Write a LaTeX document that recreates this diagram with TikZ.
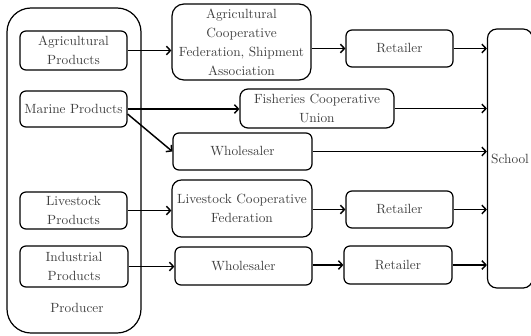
\documentclass[tikz,border=0pt]{standalone}
\usetikzlibrary{arrows.meta}
\tikzset{
  box/.style={draw, rounded corners=4.5pt, line width=0.9pt, align=center, inner sep=0pt},
  flow/.style={line width=1.1pt, -{Straight Barb[length=3pt,width=6.5pt]}},
}
\begin{document}
\begin{tikzpicture}[x=0.75pt, y=-0.75pt, font=\fontsize{10}{14.25}\selectfont, text=black!75]
  \useasboundingbox (0,0) rectangle (531,335);
  % producer column
  \node[box, rounded corners=18pt, minimum width=100.5pt, minimum height=243.75pt] (producer) at (74,170.5) {};
  \node (prodlabel) at (77,308) {Producer};
  \node[box, minimum width=80.25pt, minimum height=29.25pt] (agri) at (73.5,50.5) {Agricultural\\Products};
  \node[box, minimum width=80.25pt, minimum height=27pt] (marine) at (73.5,109) {Marine Products};
  \node[box, minimum width=80.25pt, minimum height=27.75pt] (livestock) at (73.5,210.5) {Livestock\\Products};
  \node[box, minimum width=81pt, minimum height=30.75pt] (industrial) at (74,266.5) {Industrial\\Products};
  % middle stage
  \node[box, rounded corners=9pt, minimum width=104.25pt, minimum height=57pt] (acf) at (241.5,42) {Agricultural\\Cooperative\\Federation, Shipment\\Association};
  \node[box, rounded corners=6pt, minimum width=115.5pt, minimum height=29.25pt] (fish) at (317,108.5) {Fisheries Cooperative\\Union};
  \node[box, minimum width=104.25pt, minimum height=27.75pt] (whole1) at (242.5,151.5) {Wholesaler};
  \node[box, rounded corners=7pt, minimum width=105pt, minimum height=42.75pt] (lcf) at (242,208.5) {Livestock Cooperative\\Federation};
  \node[box, minimum width=102.75pt, minimum height=28.5pt] (whole2) at (243.5,266) {Wholesaler};
  % retailers
  \node[box, minimum width=80.25pt, minimum height=27.75pt] (ret1) at (399.5,48.5) {Retailer};
  \node[box, minimum width=80.25pt, minimum height=27.75pt] (ret2) at (399.5,209.5) {Retailer};
  \node[box, minimum width=81pt, minimum height=28.5pt] (ret3) at (398,265) {Retailer};
  % school
  \node[box, rounded corners=7pt, minimum width=33.75pt, minimum height=194.25pt] (school) at (510,158.5) {School};
  % flows
  \draw[flow] (agri.east) -- (agri.east -| acf.west);
  \draw[flow] (acf.east |- ret1.west) -- (ret1.west);
  \draw[flow] (ret1.east) -- (ret1.east -| school.west);
  \draw[flow] (marine.east) -- (marine.east -| fish.west);
  \draw[flow] ([yshift=-3.75pt]marine.east) -- (whole1.west);
  \draw[flow] (fish.east) -- (fish.east -| school.west);
  \draw[flow] (whole1.east) -- (whole1.east -| school.west);
  \draw[flow] (livestock.east) -- (livestock.east -| lcf.west);
  \draw[flow] (lcf.east |- ret2.west) -- (ret2.west);
  \draw[flow] (ret2.east) -- (ret2.east -| school.west);
  \draw[flow] (industrial.east) -- (industrial.east -| whole2.west);
  \draw[flow] (whole2.east |- ret3.west) -- (ret3.west);
  \draw[flow] (ret3.east) -- (ret3.east -| school.west);
\end{tikzpicture}
\end{document}
